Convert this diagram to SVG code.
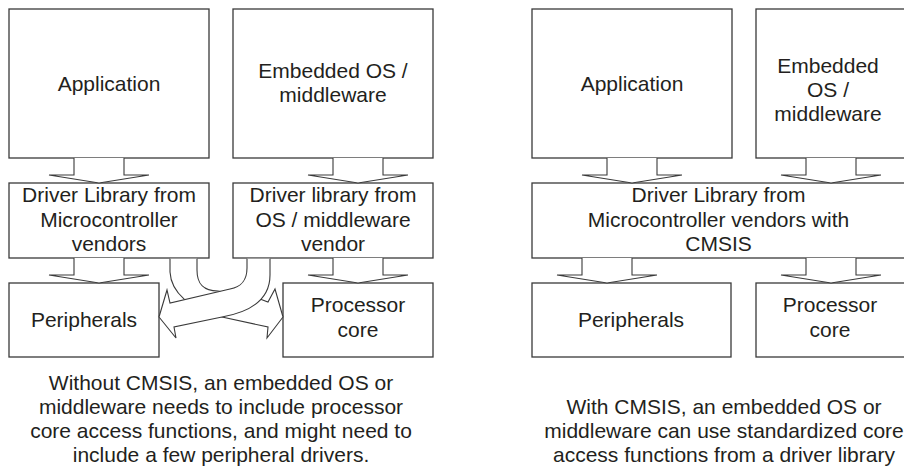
<svg xmlns="http://www.w3.org/2000/svg" width="904" height="467" viewBox="0 0 904 467">
<style>
.box{fill:#fff;stroke:#3a3a3a;stroke-width:1.3}
.arr{fill:#fff;stroke:#3a3a3a;stroke-width:1.1;stroke-linejoin:miter}
text{font-family:"Liberation Sans",Arial,sans-serif;font-size:21px;fill:#231f20;text-anchor:middle}
</style>
<rect width="904" height="467" fill="#fff"/>
<!-- Left diagram -->
<g id="app-l"><rect class="box" x="9" y="9" width="200" height="149"/><text x="109" y="91">Application</text></g>
<g id="os-l"><rect class="box" x="233" y="9" width="200" height="149"/><text x="333" y="78">Embedded OS /</text><text x="333" y="102">middleware</text></g>
<g id="drv-mcu-l"><rect class="box" x="9" y="183" width="200" height="75"/><text x="109" y="202">Driver Library from</text><text x="109" y="227">Microcontroller</text><text x="109" y="251">vendors</text></g>
<g id="drv-os-l"><rect class="box" x="233" y="183" width="200" height="75"/><text x="333" y="202">Driver library from</text><text x="333" y="227">OS / middleware</text><text x="333" y="251">vendor</text></g>
<g id="periph-l"><rect class="box" x="9" y="283" width="150" height="74"/><text x="84" y="327">Peripherals</text></g>
<g id="core-l"><rect class="box" x="283" y="283" width="150" height="74"/><text x="358" y="312">Processor</text><text x="358" y="337">core</text></g>
<!-- Right diagram -->
<g id="app-r"><rect class="box" x="532" y="9" width="200" height="149"/><text x="632" y="91">Application</text></g>
<g id="os-r"><rect class="box" x="756" y="9" width="160" height="149"/><text x="828" y="73">Embedded</text><text x="828" y="97">OS /</text><text x="828" y="121">middleware</text></g>
<g id="drv-r"><rect class="box" x="532" y="183" width="384" height="75"/><text x="718.5" y="202">Driver Library from</text><text x="718.5" y="227">Microcontroller vendors with</text><text x="718.5" y="251">CMSIS</text></g>
<g id="periph-r"><rect class="box" x="532" y="283" width="199" height="74"/><text x="631" y="327">Peripherals</text></g>
<g id="core-r"><rect class="box" x="756" y="283" width="160" height="74"/><text x="830" y="312">Processor</text><text x="830" y="337">core</text></g>
<!-- Connectors -->
<g id="connectors">
<path class="arr" d="M74,158 V175 H49 L99,183 L149,175 H124 V158"/>
<path class="arr" d="M333,158 V175 H308 L358,183 L408,175 H383 V158"/>
<path class="arr" d="M74,258 V275 H49 L99,283 L149,275 H124 V258"/>
<path class="arr" d="M333,258 V275 H308 L358,283 L408,275 H383 V258"/>
<path class="arr" d="M607,158 V175 H582 L632,183 L682,175 H657 V158"/>
<path class="arr" d="M806,158 V175 H781 L831,183 L881,175 H856 V158"/>
<path class="arr" d="M582,258 V275 H557 L607,283 L657,275 H632 V258"/>
<path class="arr" d="M806,258 V275 H781 L831,283 L881,275 H856 V258"/>
<!-- crossing band: left driver to processor core (underneath) -->
<path class="arr" d="M170,258.7 V272 C171,292 190,310 222,317 L268,327 L267,338 L283,317 L275,289 L268,302 L260,299 L218,291 C203,291 197,284 197,270 V258.7"/>
<!-- crossing band: OS driver to peripherals (on top) -->
<path class="arr" d="M247,258.7 V268 C247,282 240,287 230,289 L170,303 L167,290 L159,317 L176,338 L174,327 L222,317 C250,312 270,300 270,275 V258.7"/>
</g>
<!-- Captions -->
<g id="caption-l">
<text x="221" y="390">Without CMSIS, an embedded OS or</text>
<text x="221" y="414">middleware needs to include processor</text>
<text x="221" y="438">core access functions, and might need to</text>
<text x="221" y="462">include a few peripheral drivers.</text>
</g>
<g id="caption-r">
<text x="724" y="414">With CMSIS, an embedded OS or</text>
<text x="724" y="438">middleware can use standardized core</text>
<text x="724" y="462">access functions from a driver library</text>
</g>
</svg>
